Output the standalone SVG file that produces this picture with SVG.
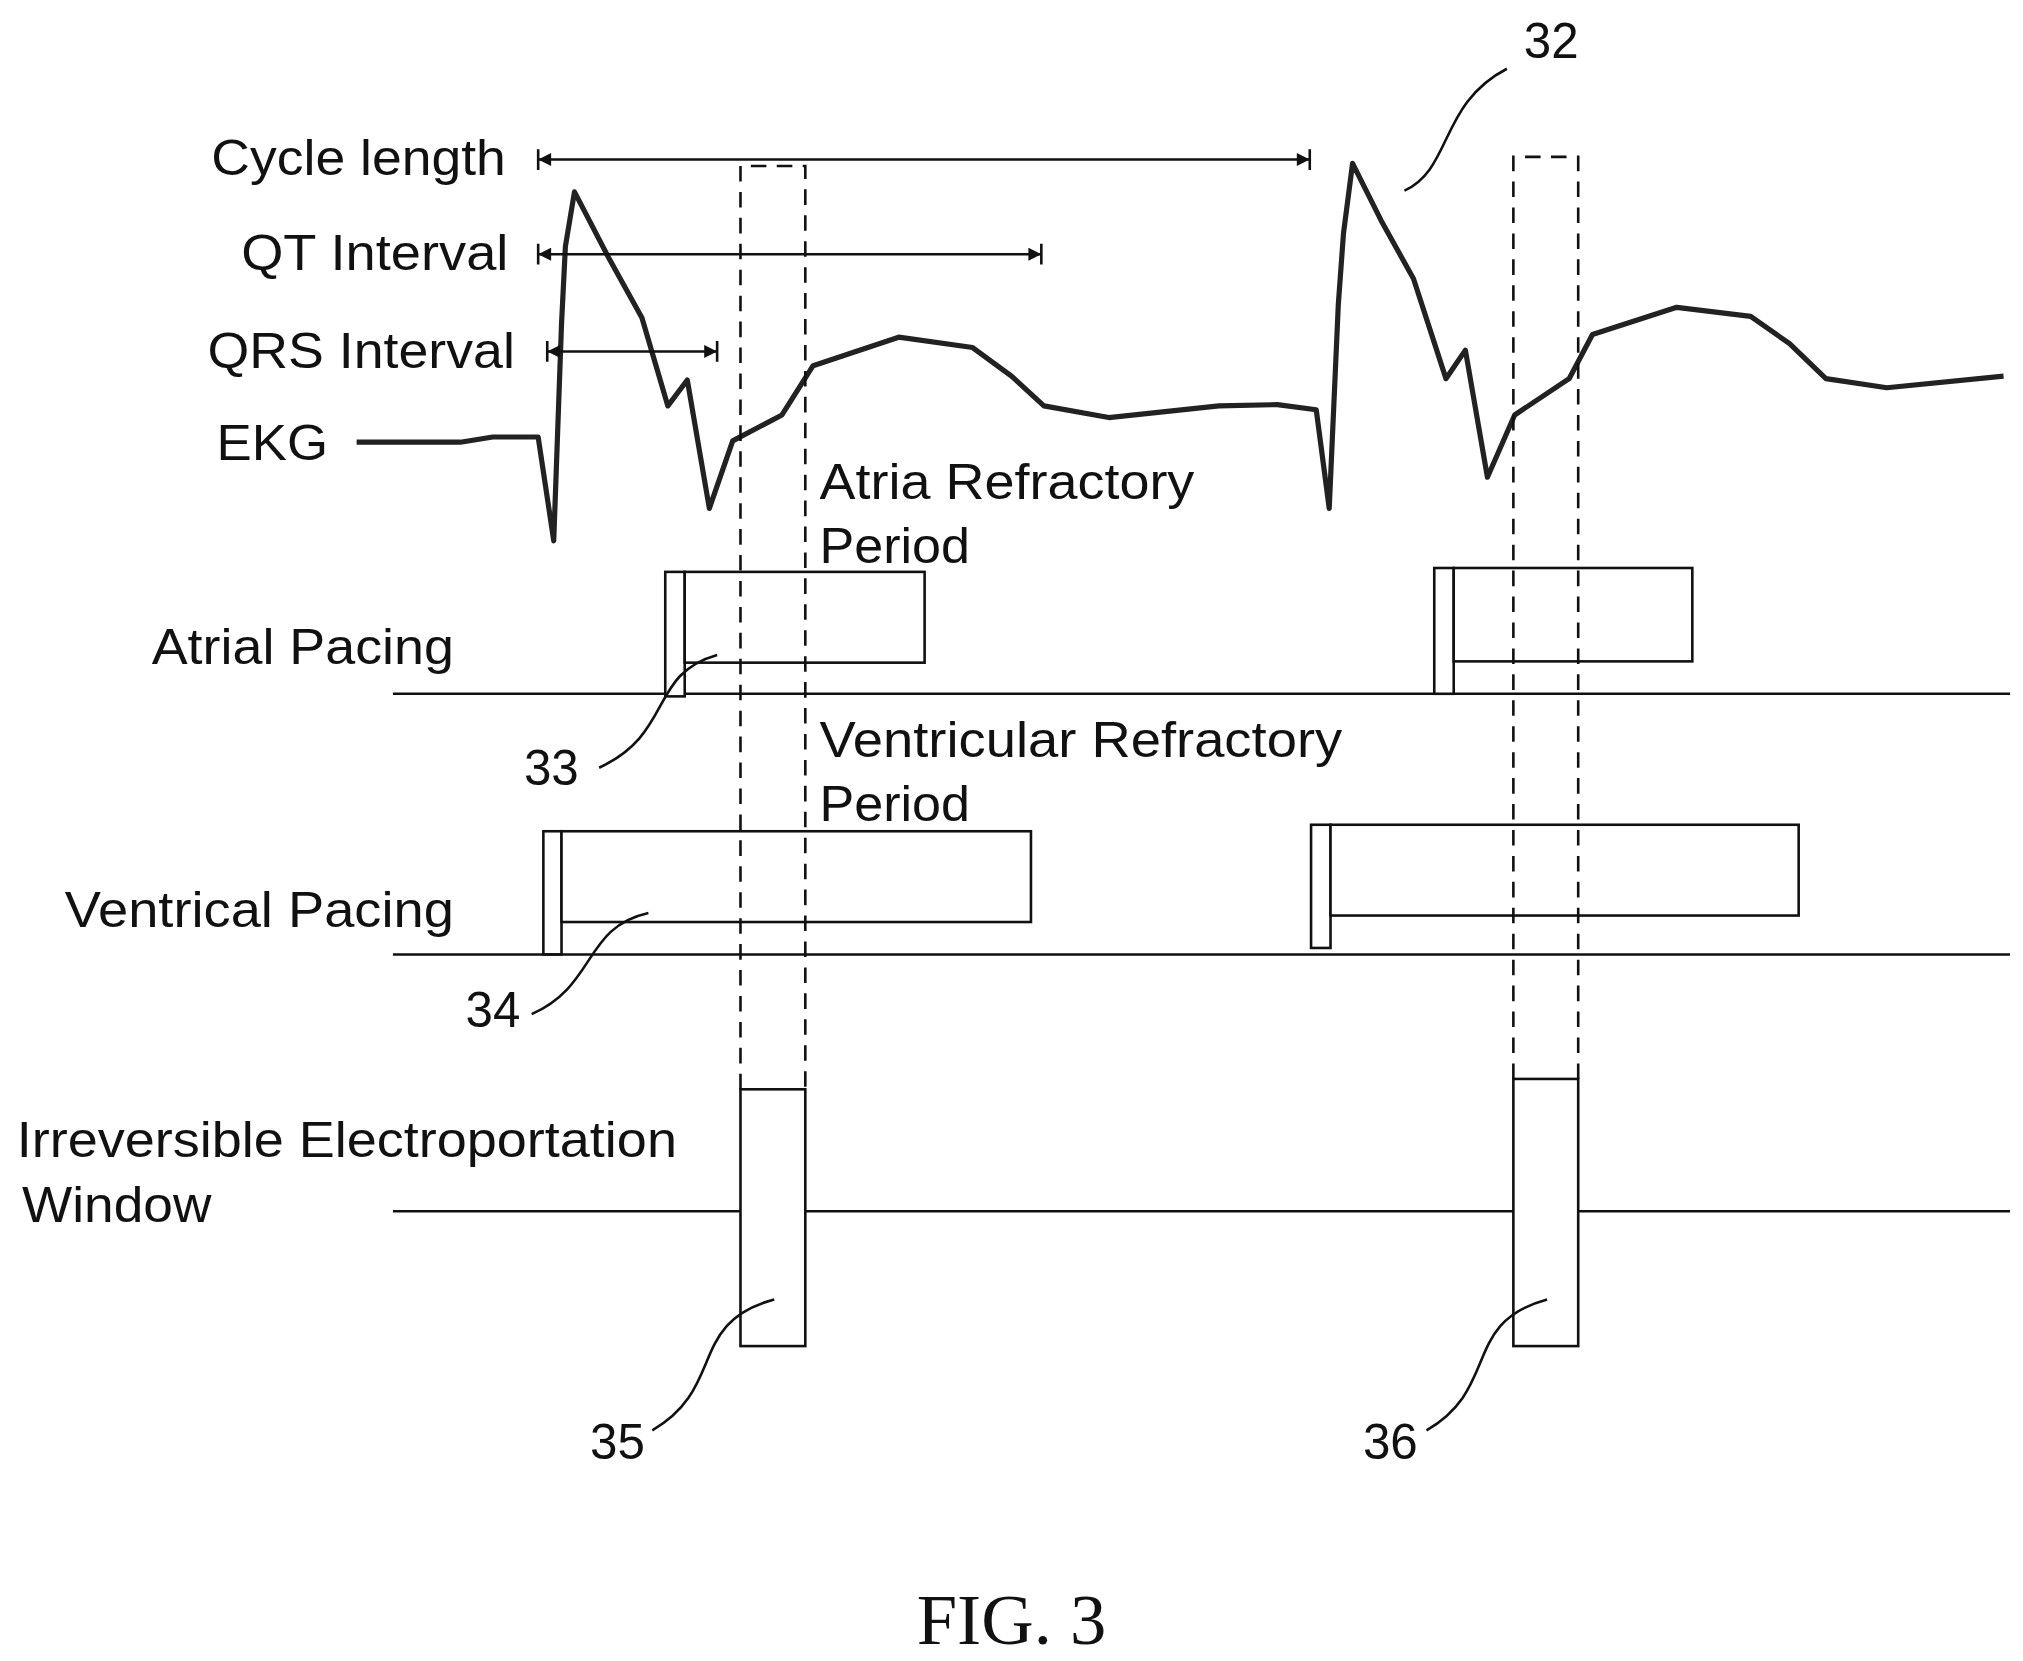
<svg xmlns="http://www.w3.org/2000/svg" width="2023" height="1661" viewBox="0 0 2023 1661">
<style>
text{font-family:"Liberation Sans",Arial,sans-serif;font-size:38px;fill:#111}
.r{text-anchor:end}
.l{fill:none;stroke:#111;stroke-width:2}
.d{fill:none;stroke:#111;stroke-width:2;stroke-dasharray:12,8}
.b{fill:#fff;stroke:#111;stroke-width:2}
</style>
<defs>
<marker id="ah" viewBox="0 0 10 10" refX="10" refY="5" markerWidth="14" markerHeight="10" markerUnits="userSpaceOnUse" orient="auto-start-reverse"><path d="M0,0 L10,5 L0,10 z" fill="#111"/></marker>
</defs>
<rect width="2023" height="1661" fill="#fff"/>
<g transform="scale(1.2968)">
<g id="labels">
<text x="163" y="135" textLength="227" lengthAdjust="spacingAndGlyphs">Cycle length</text>
<text x="186" y="208" textLength="206" lengthAdjust="spacingAndGlyphs">QT Interval</text>
<text x="160" y="284" textLength="237" lengthAdjust="spacingAndGlyphs">QRS Interval</text>
<text x="167" y="355" textLength="86" lengthAdjust="spacingAndGlyphs">EKG</text>
<text x="632" y="385" textLength="289" lengthAdjust="spacingAndGlyphs">Atria Refractory</text>
<text x="632" y="434" textLength="116" lengthAdjust="spacingAndGlyphs">Period</text>
<text x="117" y="512" textLength="233" lengthAdjust="spacingAndGlyphs">Atrial Pacing</text>
<text x="632" y="584" textLength="403" lengthAdjust="spacingAndGlyphs">Ventricular Refractory</text>
<text x="632" y="633" textLength="116" lengthAdjust="spacingAndGlyphs">Period</text>
<text x="50" y="715" textLength="300" lengthAdjust="spacingAndGlyphs">Ventrical Pacing</text>
<text x="13" y="892" textLength="509" lengthAdjust="spacingAndGlyphs">Irreversible Electroportation</text>
<text x="17" y="942" textLength="146" lengthAdjust="spacingAndGlyphs">Window</text>
<text x="1175" y="45">32</text>
<text x="404" y="605">33</text>
<text x="359" y="792">34</text>
<text x="455" y="1125">35</text>
<text x="1051" y="1125">36</text>
<text x="780" y="1268" style="font-family:'Liberation Serif',serif;font-size:56px;text-anchor:middle">FIG. 3</text>
</g>
<g id="ekg"><path fill="none" stroke="#222" stroke-width="4" stroke-linejoin="round" d="M275,341 L355,341 380,337 415,337 427,417 433,250 436,190 443,148 470,200 495,245 515,313 530,293 547,392 565,340 603,320 627,282 693,260 750,268 780,290 805,313 855,322 940,313 985,312 1015,316 1025,392 1032,235 1036,180 1043,126 1065,170 1090,215 1115,292 1130,270 1147,368 1168,320 1210,292 1228,258 1293,237 1350,244 1380,265 1408,292 1455,299 1545,290"/></g>
<g id="atrial1"><rect class="b" x="513" y="441" width="15" height="96"/><rect class="b" x="528" y="441" width="185" height="70"/></g>
<g id="atrial2"><rect class="b" x="1106" y="438" width="15" height="97"/><rect class="b" x="1121" y="438" width="184" height="72"/></g>
<g id="vent1"><rect class="b" x="419" y="641" width="14" height="95"/><rect class="b" x="433" y="641" width="362" height="70"/></g>
<g id="vent2"><rect class="b" x="1011" y="636" width="15" height="95"/><rect class="b" x="1026" y="636" width="361" height="70"/></g>
<g id="ire1"><rect class="b" x="571" y="840" width="50" height="198"/></g>
<g id="ire2"><rect class="b" x="1167" y="832" width="50" height="206"/></g>
<g id="connectors">
<path class="l" d="M415,123 H1010" marker-start="url(#ah)" marker-end="url(#ah)"/>
<path class="l" d="M415,115 v16 M1010,115 v16"/>
<path class="l" d="M415,196 H803" marker-start="url(#ah)" marker-end="url(#ah)"/>
<path class="l" d="M415,188 v16 M803,188 v16"/>
<path class="l" d="M422,271 H553" marker-start="url(#ah)" marker-end="url(#ah)"/>
<path class="l" d="M422,263 v16 M553,263 v16"/>
<path class="l" d="M303,535 H513 M528,535 H1106 M1121,535 H1550 M303,736 H1550 M303,934 H571 M621,934 H1167 M1217,934 H1550"/>
<path class="l" d="M1162,53 C1110,80 1120,130 1083,147"/>
<path class="l" d="M462,592 C520,565 500,520 553,505"/>
<path class="l" d="M410,782 C460,760 450,715 500,704"/>
<path class="l" d="M503,1103 C560,1070 530,1020 597,1002"/>
<path class="l" d="M1100,1103 C1157,1070 1127,1020 1193,1002"/>
</g>
<g id="windows"><path class="d" d="M571,840 V128 H621 V840"/><path class="d" d="M1167,832 V121 H1217 V832"/></g>
</g>
</svg>
